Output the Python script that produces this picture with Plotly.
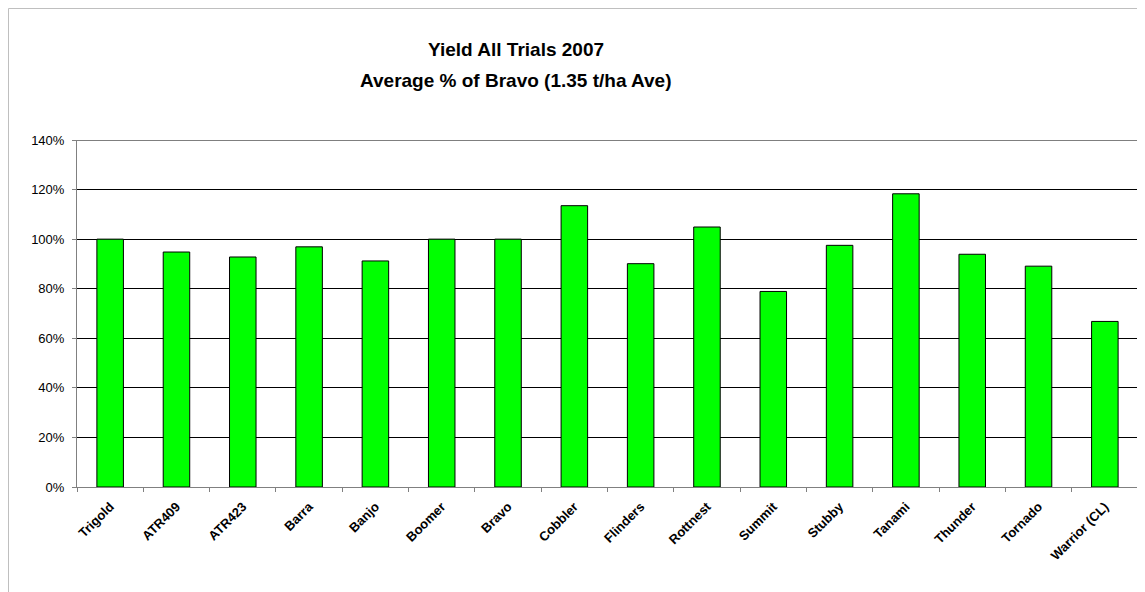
import plotly.graph_objects as go

varieties = ["Trigold", "ATR409", "ATR423", "Barra", "Banjo", "Boomer", "Bravo", "Cobbler",
             "Flinders", "Rottnest", "Summit", "Stubby", "Tanami", "Thunder", "Tornado", "Warrior (CL)"]
yield_pct = [100.0, 94.8, 92.8, 96.9, 91.2, 100.0, 100.0, 113.5,
             90.1, 104.9, 78.9, 97.5, 118.3, 93.9, 89.1, 66.8]
y_ticks = [0, 20, 40, 60, 80, 100, 120, 140]
y_tick_labels = [f"{v}%" for v in y_ticks]
title_lines = ["Yield All Trials 2007", "Average % of Bravo (1.35 t/ha Ave)"]

OFF = 8  # page body offset
W, H = 1145 - OFF, 592 - OFF
L, R, T, B = 77 - OFF, 7, 140 - OFF, 105
pw, ph = W - L - R, H - T - B
FONT = "Liberation Sans, Arial, sans-serif"

fig = go.Figure(go.Bar(
    x=varieties, y=yield_pct,
    marker=dict(color="#00FF00", line=dict(color="#000000", width=1)),
    width=0.4,
))

fig.update_layout(
    width=W, height=H,
    margin=dict(l=L, r=R, t=T, b=B),
    paper_bgcolor="white", plot_bgcolor="white",
    font=dict(family=FONT, color="#000"),
    showlegend=False,
    bargap=0.6,
)
# title as two annotations (page y = 49 and 80)
for line, py in zip(title_lines, [49, 80]):
    fig.add_annotation(
        text=f"<b>{line}</b>", xref="paper", yref="paper", showarrow=False,
        x=(516 - 77) / pw, y=(487 - py) / ph, xanchor="center", yanchor="middle",
        font=dict(size=19, family=FONT, color="#000"),
    )
fig.update_xaxes(
    showline=True, linecolor="#808080", linewidth=1,
    ticks="outside", tickson="boundaries", ticklen=4, tickcolor="#808080",
    tickangle=-45, tickfont=dict(size=13, family=FONT, weight="bold"),
    ticklabelstandoff=6,
    showgrid=False,
)
fig.update_yaxes(
    range=[0, 140], tickvals=y_ticks, ticktext=y_tick_labels,
    showline=True, linecolor="#808080", linewidth=1,
    ticks="outside", ticklen=4, tickcolor="#808080",
    tickfont=dict(size=13, family=FONT),
    ticklabelstandoff=5,
    showgrid=True, gridcolor="#000000", gridwidth=1, zeroline=False,
)
# top gridline at 140%
fig.add_shape(type="line", xref="paper", yref="y", x0=0, x1=1, y0=140, y1=140,
              line=dict(color="#000000", width=1))
# faint chart-area border (top/left edges visible)
fig.add_shape(type="rect", xref="paper", yref="paper",
              x0=(8.5 - 77) / pw, x1=1 + 50 / pw, y0=-1, y1=(487 - 8.5) / ph,
              line=dict(color="#BFBFBF", width=1), layer="below")

fig.write_html("out.html")
